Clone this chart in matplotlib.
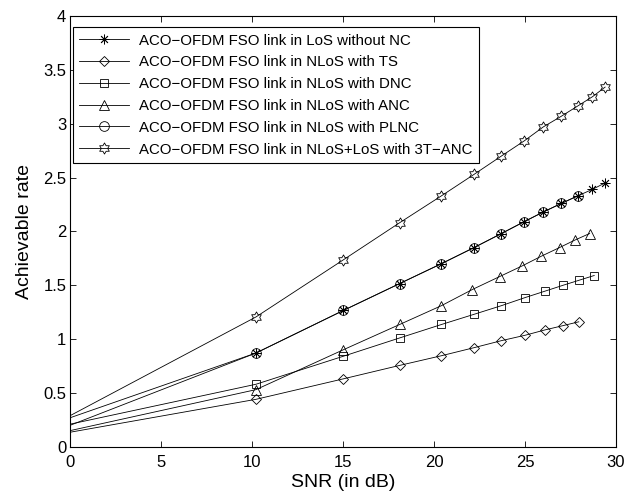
import numpy as np
import matplotlib
matplotlib.use('Agg')
import matplotlib.pyplot as plt
from matplotlib.path import Path
from matplotlib.ticker import FuncFormatter

plt.rcParams['font.family'] = ['Liberation Sans', 'DejaVu Sans']

# SNR points (dB) and achievable rates for each scheme
snr_los = [0, 10.2, 15.0, 18.1, 20.4, 22.2, 23.7, 24.95, 26.0, 27.0, 27.9, 28.7, 29.4]
rate_los = [0.27, 0.87, 1.265, 1.515, 1.70, 1.85, 1.98, 2.09, 2.18, 2.26, 2.33, 2.39, 2.45]

snr_ts = [0, 10.2, 15.0, 18.1, 20.4, 22.2, 23.7, 25.0, 26.1, 27.1, 27.95]
rate_ts = [0.135, 0.44, 0.63, 0.755, 0.845, 0.92, 0.985, 1.035, 1.085, 1.125, 1.16]

snr_dnc = [0, 10.2, 15.0, 18.1, 20.4, 22.2, 23.7, 25.0, 26.1, 27.1, 27.95, 28.8]
rate_dnc = [0.21, 0.58, 0.84, 1.01, 1.135, 1.23, 1.31, 1.385, 1.445, 1.50, 1.545, 1.59]

snr_anc = [0, 10.2, 15.0, 18.1, 20.4, 22.1, 23.6, 24.85, 25.9, 26.9, 27.75, 28.55]
rate_anc = [0.15, 0.53, 0.90, 1.135, 1.31, 1.46, 1.58, 1.68, 1.77, 1.85, 1.92, 1.98]

snr_plnc = [0, 10.2, 15.0, 18.1, 20.4, 22.2, 23.7, 24.95, 26.0, 27.0, 27.9]
rate_plnc = [0.20, 0.87, 1.265, 1.515, 1.70, 1.85, 1.98, 2.09, 2.18, 2.26, 2.33]

snr_3t = [0, 10.2, 15.0, 18.1, 20.4, 22.2, 23.7, 24.95, 26.0, 27.0, 27.9, 28.7, 29.4]
rate_3t = [0.29, 1.205, 1.735, 2.08, 2.33, 2.53, 2.70, 2.84, 2.97, 3.07, 3.165, 3.25, 3.34]

labels = ['ACO\u2212OFDM FSO link in LoS without NC',
          'ACO\u2212OFDM FSO link in NLoS with TS',
          'ACO\u2212OFDM FSO link in NLoS with DNC',
          'ACO\u2212OFDM FSO link in NLoS with ANC',
          'ACO\u2212OFDM FSO link in NLoS with PLNC',
          'ACO\u2212OFDM FSO link in NLoS+LoS with 3T\u2212ANC']

hexagram = Path.unit_regular_star(6, 1 / np.sqrt(3))

series = [
    (snr_los, rate_los, (8, 2, 0), 7),
    (snr_ts, rate_ts, 'D', 5.5),
    (snr_dnc, rate_dnc, 's', 6),
    (snr_anc, rate_anc, '^', 7.5),
    (snr_plnc, rate_plnc, 'o', 7),
    (snr_3t, rate_3t, hexagram, 8),
]

fig = plt.figure(figsize=(6.27, 4.96), dpi=100)
ax = fig.add_axes([0.1124, 0.0994, 0.8701, 0.8683])

for (x, y, m, ms), lab in zip(series, labels):
    # first point (0 dB) has no marker, like the original curves
    ax.plot(x, y, color='black', lw=0.6, label=lab,
            marker=m, ms=ms, mfc='none', mec='black', mew=0.6,
            markevery=list(range(1, len(x))))

ax.set_xlim(0, 30)
ax.set_ylim(0, 4)
ax.set_xticks(np.arange(0, 31, 5))
ax.set_yticks(np.arange(0, 4.01, 0.5))
ax.yaxis.set_major_formatter(FuncFormatter(lambda v, p: '%g' % v))
ax.tick_params(direction='in', top=True, right=True, length=4, width=0.6,
               labelsize=12)
ax.tick_params(axis='x', pad=6)
ax.tick_params(axis='y', pad=3)
for s in ax.spines.values():
    s.set_linewidth(0.8)

ax.set_xlabel('SNR (in dB)', fontsize=14, labelpad=3)
ax.set_ylabel('Achievable rate', fontsize=14, labelpad=7)

leg = ax.legend(loc='upper left', bbox_to_anchor=(0.004, 0.975),
                borderaxespad=0, fontsize=10.8, fancybox=False,
                edgecolor='black', framealpha=1, handlelength=3.3,
                handletextpad=0.65, labelspacing=0.52, borderpad=0.45)
leg.get_frame().set_linewidth(0.8)

fig.savefig('out.png', dpi=100)
